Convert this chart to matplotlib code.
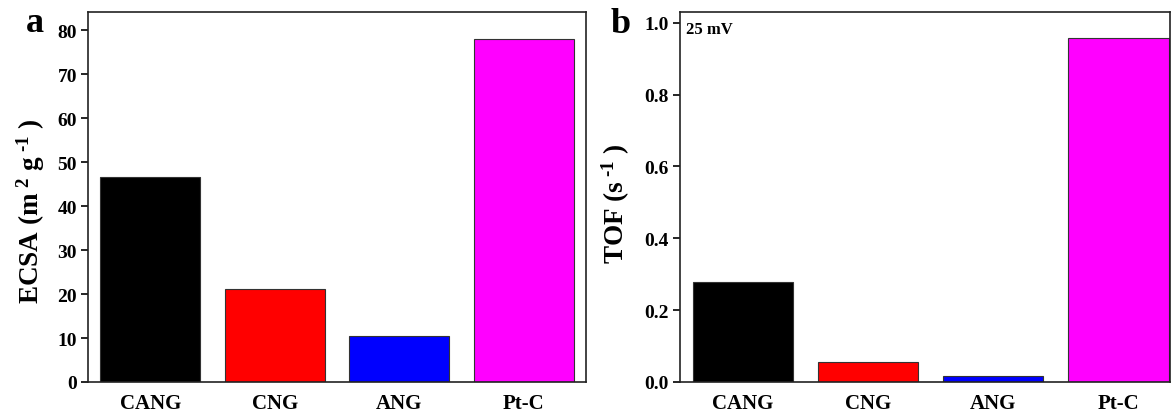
import matplotlib
matplotlib.use("Agg")
import matplotlib.pyplot as plt

categories = ["CANG", "CNG", "ANG", "Pt-C"]
ecsa = [46.5, 21.1, 10.5, 78.0]
tof = [0.278, 0.056, 0.017, 0.958]
colors = ["#000000", "#ff0000", "#0000ff", "#ff00ff"]
ecsa_ticks = [0, 10, 20, 30, 40, 50, 60, 70, 80]
tof_ticks = [0.0, 0.2, 0.4, 0.6, 0.8, 1.0]

plt.rcParams["font.family"] = ["Liberation Serif", "DejaVu Serif"]
plt.rcParams["font.weight"] = "bold"
plt.rcParams["mathtext.fontset"] = "custom"
plt.rcParams["mathtext.rm"] = "Liberation Serif:bold"
plt.rcParams["mathtext.it"] = "Liberation Serif:bold"
plt.rcParams["mathtext.bf"] = "Liberation Serif:bold"
plt.rcParams["mathtext.default"] = "rm"

fig = plt.figure(figsize=(11.72, 4.14), dpi=100)
W, H = 1172, 414
axa = fig.add_axes([88 / W, (414 - 383) / H, (586 - 88) / W, (383 - 13) / H])
axb = fig.add_axes([680 / W, (414 - 383) / H, (1170 - 680) / W, (383 - 13) / H])

x = range(len(categories))
for ax, vals, ticks, ylim, xlim in [
    (axa, ecsa, ecsa_ticks, (0, 84.1), (-0.5, 3.5)),
    (axb, tof, tof_ticks, (0, 1.03), (-0.5, 3.41)),
]:
    ax.bar(x, vals, width=0.8, color=colors, edgecolor="#333333", linewidth=0.8)
    ax.set_xlim(*xlim)
    ax.set_ylim(*ylim)
    ax.set_yticks(ticks)
    ax.set_xticks(list(x))
    ax.set_xticklabels(categories, fontsize=15, fontweight="bold")
    ax.tick_params(axis="x", length=0, pad=8)
    ax.tick_params(axis="y", direction="out", length=5, width=1.2, labelsize=14, pad=3)
    for s in ax.spines.values():
        s.set_linewidth(1.2)
        s.set_color("#222222")

axa.set_yticklabels([str(t) for t in ecsa_ticks], fontweight="bold")
axb.set_yticklabels([f"{t:.1f}" for t in tof_ticks], fontweight="bold")

axa.set_ylabel(r"ECSA (m$^{\ 2}$ g$^{\ \text{-}1}$ )", fontsize=19.5, fontweight="bold")
axb.set_ylabel(r"TOF (s$^{\ \text{-}1}$ )", fontsize=19.5, fontweight="bold")
axa.yaxis.set_label_coords(-0.083, 0.465)
axb.yaxis.set_label_coords(-0.098, 0.485)

fig.text(26 / W, 1 - 32 / H, "a", fontsize=26, fontweight="bold", ha="left", va="baseline")
fig.text(611 / W, 1 - 33 / H, "b", fontsize=26, fontweight="bold", ha="left", va="baseline")
axb.text(0.012, 0.975, "25 mV", transform=axb.transAxes, fontsize=12, fontweight="bold",
         ha="left", va="top")

fig.savefig("out.png", dpi=100)
